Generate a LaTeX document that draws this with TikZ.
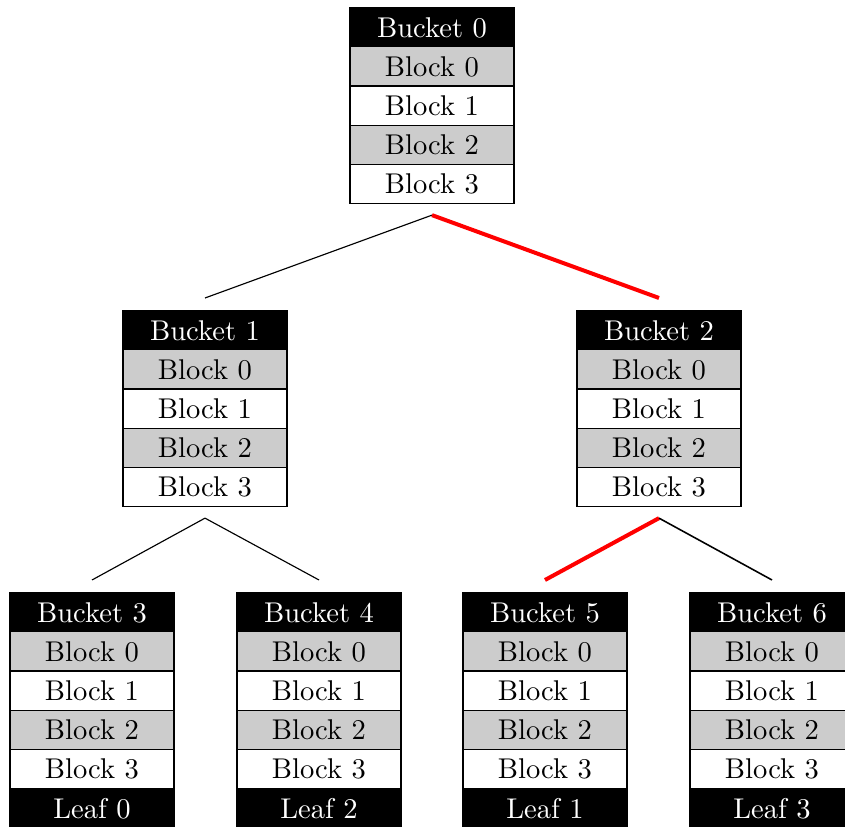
\documentclass[tikz,border=0pt]{standalone}
\tikzset{
  cell/.style={draw=black, line width=0.4pt, minimum width=57.4pt,
    minimum height=13.72pt, inner sep=0pt, anchor=north,
    text height=6.94pt, text depth=0pt},
  headcell/.style={cell, fill=black, text=white},
  graycell/.style={cell, fill=black!20},
  whitecell/.style={cell, fill=white},
  link/.style={line width=0.4pt, black},
  darklink/.style={line width=0.55pt, black},
  hotlink/.style={line width=1.4pt, red},
}
% one bucket: header plus four block rows; #1 id, #2 x centre, #3 top, #4 number
\newcommand\bucketstack[4]{%
  \node[headcell]  (#1h)  at (#2,#3)       {Bucket #4};
  \node[graycell]  (#1r0) at (#2,#3+39.2)  {Block 0};
  \node[whitecell] (#1r1) at (#2,#3+78.4)  {Block 1};
  \node[graycell]  (#1r2) at (#2,#3+117.6) {Block 2};
  \node[whitecell] (#1r3) at (#2,#3+156.8) {Block 3};
  \coordinate (#1in)  at ([yshift=4.2pt]#1h.north);
  \coordinate (#1out) at ([yshift=-3.85pt]#1r3.south);
}
\begin{document}
\begin{tikzpicture}[x=0.35pt, y=-0.35pt]
  \useasboundingbox (0,0) rectangle (845,827);

  % tree of buckets
  \bucketstack{b0}{432}{7}{0}
  \bucketstack{b1}{205}{310}{1}
  \bucketstack{b2}{659}{310}{2}
  \bucketstack{b3}{92}{592}{3}
  \bucketstack{b4}{319}{592}{4}
  \bucketstack{b5}{545}{592}{5}
  \bucketstack{b6}{772}{592}{6}

  % leaf labels under the bottom buckets
  \node[headcell] (l0) at (92,788)  {Leaf 0};
  \node[headcell] (l2) at (319,788) {Leaf 2};
  \node[headcell] (l1) at (545,788) {Leaf 1};
  \node[headcell] (l3) at (772,788) {Leaf 3};

  % tree edges; the highlighted path runs root -> bucket 2 -> bucket 5
  \draw[link]    (b0out) -- (b1in);
  \draw[hotlink] (b0out) -- (b2in);
  \draw[link]    (b1out) -- (b3in);
  \draw[link]    (b1out) -- (b4in);
  \draw[hotlink] (b2out) -- (b5in);
  \draw[darklink] (b2out) -- (b6in);
\end{tikzpicture}
\end{document}
